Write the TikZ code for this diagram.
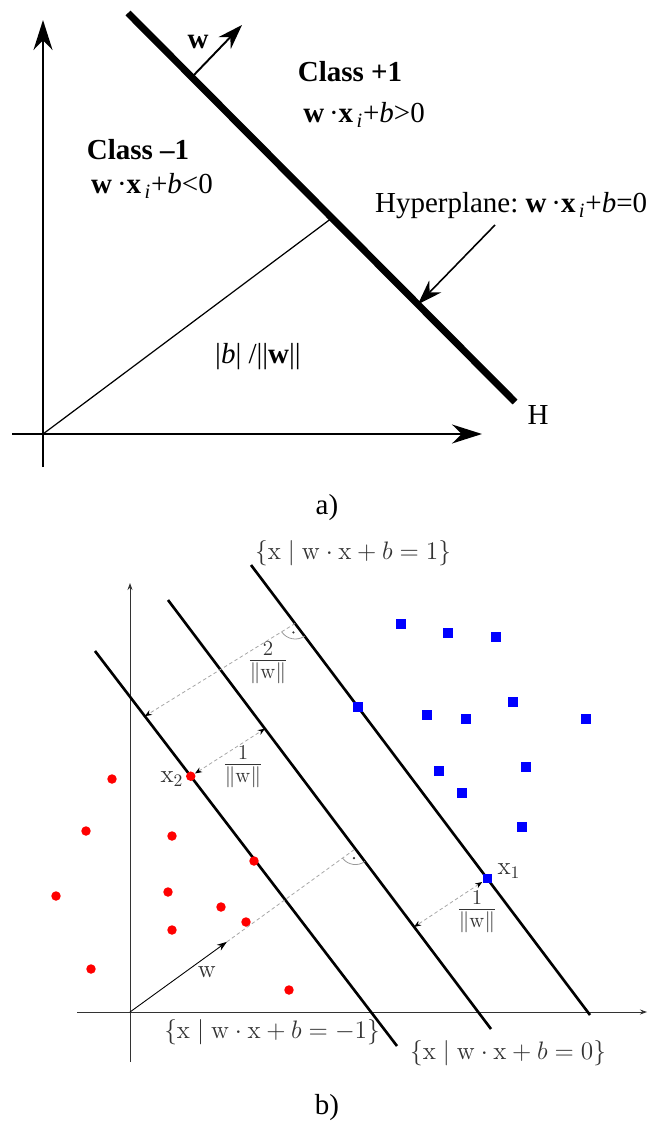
\documentclass[tikz,border=0pt]{standalone}
\usepackage{amsmath,amssymb}
\usepackage[no-math]{fontspec}
\newfontfamily\timesfont{Liberation Serif}
\usepackage{tikz}
\usetikzlibrary{arrows.meta, calc}

\begin{document}
\begin{tikzpicture}[
    x=0.02cm, y=-0.02cm,
    lbla/.style={font=\timesfont\fontsize{16.5}{19}\selectfont, inner sep=1pt},
    lblb/.style={font=\fontsize{14}{16}\selectfont, text=black!80, inner sep=1pt},
    fracb/.style={font=\fontsize{17}{19}\selectfont, text=black!80, inner sep=1pt},
    axisa/.style={draw, line width=1.1pt, -{Stealth[length=6mm, width=3.8mm]}},
    hplane/.style={draw, line width=4pt},
    pointer/.style={draw, line width=0.9pt, -{Stealth[length=5mm, width=3.4mm]}},
    axisb/.style={draw=black!80, line width=0.5pt, -{Stealth[length=1.4mm, width=1mm]}},
    margin/.style={draw, line width=1.5pt},
    dimline/.style={draw=black!35, dash pattern=on 2pt off 1.5pt, line width=0.45pt,
        >={Stealth[length=1.4mm, width=1.1mm, black]}},
    rangle/.style={draw=black!40, line width=0.45pt},
    reddot/.style={circle, fill=red, minimum size=5.4pt, inner sep=0pt},
    bluesq/.style={rectangle, fill=blue, minimum size=5.4pt, inner sep=0pt}
]
    \useasboundingbox (0,0) rectangle (653,1135);

    % a) hyperplane
    \coordinate (O) at (43,434);
    \coordinate (ytop) at (43,20);
    \coordinate (ybot) at (43,467);
    \coordinate (xbeg) at (12,434);
    \coordinate (xend) at (482,434);
    \draw[axisa] (ybot) -- (ytop);
    \draw[axisa] (xbeg) -- (xend);

    \coordinate (Htop) at (128,13);
    \coordinate (Hbot) at (515,402);
    \draw[hplane] (Htop) -- (Hbot);

    \coordinate (wbase) at ($(Htop)!0.165!(Hbot)$);
    \coordinate (wtip) at (242,25);
    \draw[line width=1.1pt, -{Stealth[length=5mm, width=3.4mm]}] (wbase) -- (wtip);

    \coordinate (foot) at ($(Htop)!0.527!(Hbot)$);
    \draw[line width=0.7pt] (O) -- (foot);

    \coordinate (ptrbeg) at (495,225);
    \coordinate (ptrend) at ($(Htop)!0.749!(Hbot)$);
    \draw[pointer] (ptrbeg) -- (ptrend);

    \node[lbla] (wlab) at (198,42) {\textbf{w}};
    \node[lbla] (clspos) at (350,72) {\textbf{Class +1}};
    \node[lbla] (ineqpos) at (364,115) {\textbf{w}\,·\textbf{x}\textsubscript{\,\textit{i}}+\textit{b}>0};
    \node[lbla] (clsneg) at (138,150) {\textbf{Class \textendash 1}};
    \node[lbla] (ineqneg) at (152,186) {\textbf{w}\,·\textbf{x}\textsubscript{\,\textit{i}}+\textit{b}<0};
    \node[lbla, anchor=west] (hyplab) at (373,206) {Hyperplane:\ \textbf{w}\,·\textbf{x}\textsubscript{\,\textit{i}}+\textit{b}=0};
    \node[lbla] (Hlab) at (538,415) {H};
    \node[lbla] (dist) at (258,357) {|\textit{b}| /||\textbf{w}||};
    \node[lbla] (capa) at (327,508) {a)};

    % b) margins
    \coordinate (O2) at (130,1012);
    \coordinate (yb2) at (130,1062);
    \coordinate (yt2) at (130,583);
    \coordinate (xb2) at (77,1012);
    \coordinate (xt2) at (647,1012);
    \draw[axisb] (yb2) -- (yt2);
    \draw[axisb] (xb2) -- (xt2);

    \coordinate (Pa) at (251,565);
    \coordinate (Pb) at (590,1015);
    \coordinate (Za) at (168,600);
    \coordinate (Zb) at (491,1029);
    \coordinate (Ma) at (95,651);
    \coordinate (Mb) at (397,1046);
    \draw[margin] (Pa) -- (Pb);
    \draw[margin] (Za) -- (Zb);
    \draw[margin] (Ma) -- (Mb);

    % red class
    \foreach \p [count=\i] in {(112,779),(86,831),(172,836),(254,861),(168,892),(221,907),
        (246,922),(172,930),(91,969),(289,990),(56,896)}
        \node[reddot] (r\i) at \p {};
    \node[reddot] (x2) at ($(Ma)!0.317!(Mb)$) {};

    % blue class
    \foreach \p [count=\i] in {(401,624),(448,633),(496,637),(358,707),(427,715),(466,719),
        (513,702),(586,719),(439,771),(526,767),(462,793),(522,827)}
        \node[bluesq] (s\i) at \p {};
    \node[bluesq] (x1) at ($(Pa)!0.697!(Pb)$) {};

    % distances
    \coordinate (R1) at ($(Pa)!0.13!(Pb)$);
    \coordinate (Q1) at ($(Ma)!0.165!(Mb)$);
    \draw[dimline, ->] (R1) -- (Q1);
    \coordinate (Z1) at ($(Za)!0.30!(Zb)$);
    \draw[dimline, <->] (x2) -- (Z1);
    \coordinate (Z2) at ($(Za)!0.762!(Zb)$);
    \draw[dimline, <->] (x1) -- (Z2);

    \coordinate (R0) at ($(Za)!0.58!(Zb)$);
    \coordinate (W) at ($(O2)!0.43!(R0)$);
    \draw[line width=0.5pt, -{Stealth[length=2mm, width=1.4mm]}] (O2) -- (W);
    \draw[dimline] (W) -- (R0);

    % right angles
    \coordinate (R1a) at ($(R1)!9pt!(Q1)$);
    \coordinate (R1b) at ($(R1)!9pt!(Pb)$);
    \coordinate (R1m) at ($(R1a)!0.5!(R1b)$);
    \draw[rangle] (R1a) to[bend right=45] (R1b);
    \fill[black!80] ($(R1)!0.85!(R1m)$) circle (0.7pt);
    \coordinate (R0a) at ($(R0)!9pt!(O2)$);
    \coordinate (R0b) at ($(R0)!9pt!(Zb)$);
    \coordinate (R0m) at ($(R0a)!0.5!(R0b)$);
    \draw[rangle] (R0a) to[bend right=45] (R0b);
    \fill[black!80] ($(R0)!0.85!(R0m)$) circle (0.7pt);

    \node[lblb] (top) at (353,553) {$\{\mathrm{x}\mid\mathrm{w}\cdot\mathrm{x}+b=1\}$};
    \node[lblb] (lowl) at (272,1032) {$\{\mathrm{x}\mid\mathrm{w}\cdot\mathrm{x}+b=-1\}$};
    \node[lblb] (lowr) at (508,1053) {$\{\mathrm{x}\mid\mathrm{w}\cdot\mathrm{x}+b=0\}$};
    \node[fracb] (f2) at (268,663) {$\frac{2}{\|\mathrm{w}\|}$};
    \node[fracb] (f1u) at (243,767) {$\frac{1}{\|\mathrm{w}\|}$};
    \node[fracb] (f1l) at (477,912) {$\frac{1}{\|\mathrm{w}\|}$};
    \node[lblb] (x2lab) at (172,779) {$\mathrm{x}_2$};
    \node[lblb] (x1lab) at (509,871) {$\mathrm{x}_1$};
    \node[lblb] (wlab2) at (207,972) {$\mathrm{w}$};
    \node[lbla] (capb) at (327,1108) {b)};
\end{tikzpicture}
\end{document}
